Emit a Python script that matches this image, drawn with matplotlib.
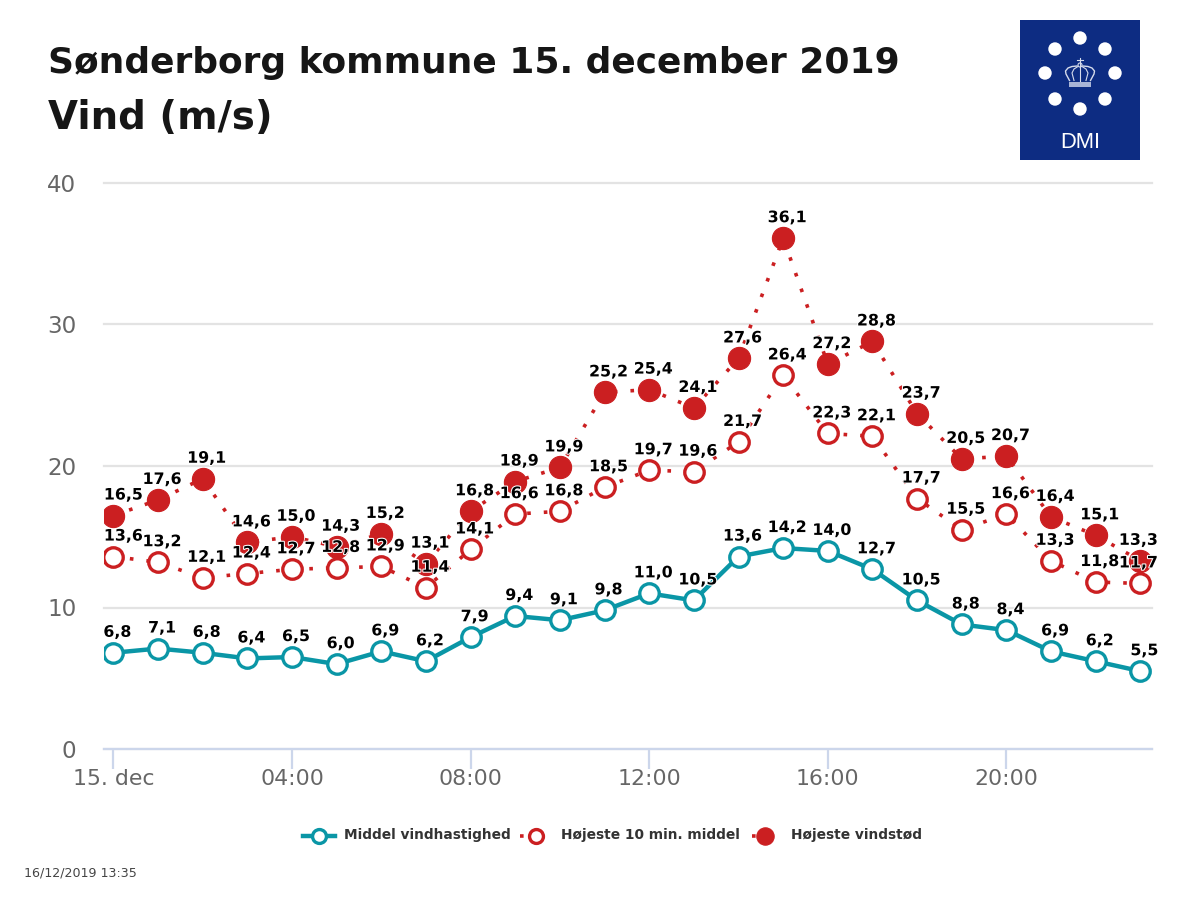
import matplotlib
matplotlib.use("Agg")
import matplotlib.pyplot as plt
import matplotlib.patheffects as pe
from matplotlib.patches import Circle, Rectangle

# data
hours = list(range(24))
middel = [6.8, 7.1, 6.8, 6.4, 6.5, 6.0, 6.9, 6.2, 7.9, 9.4, 9.1, 9.8, 11.0, 10.5, 13.6, 14.2, 14.0, 12.7, 10.5, 8.8, 8.4, 6.9, 6.2, 5.5]
hoejeste_10min = [13.6, 13.2, 12.1, 12.4, 12.7, 12.8, 12.9, 11.4, 14.1, 16.6, 16.8, 18.5, 19.7, 19.6, 21.7, 26.4, 22.3, 22.1, 17.7, 15.5, 16.6, 13.3, 11.8, 11.7]
vindstoed = [16.5, 17.6, 19.1, 14.6, 15.0, 14.3, 15.2, 13.1, 16.8, 18.9, 19.9, 25.2, 25.4, 24.1, 27.6, 36.1, 27.2, 28.8, 23.7, 20.5, 20.7, 16.4, 15.1, 13.3]
x_ticks = [0, 4, 8, 12, 16, 20]
x_labels = ["15. dec", "04:00", "08:00", "12:00", "16:00", "20:00"]
y_ticks = [0, 10, 20, 30, 40]

TEAL = "#0a96a6"
RED = "#cb1f21"
DOTS = (0, (1, 3.6))
W, H = 1200, 900

plt.rcParams["font.family"] = "DejaVu Sans"


def px(size):
    return size * 72 / 100


fig = plt.figure(figsize=(12, 9), dpi=100, facecolor="white")
ax = fig.add_axes([104 / W, 1 - 749 / H, 1048 / W, 566 / H])

ax.plot(hours, vindstoed, color=RED, lw=2.6, ls=DOTS, marker="o", ms=16, mfc=RED, mec=RED, mew=0.8, zorder=3, label="Højeste vindstød")
ax.plot(hours, hoejeste_10min, color=RED, lw=2.6, ls=DOTS, marker="o", ms=14, mfc="white", mec=RED, mew=2.4, zorder=4, label="Højeste 10 min. middel")
ax.plot(hours, middel, color=TEAL, lw=3.2, marker="o", ms=14, mfc="white", mec=TEAL, mew=2.4, zorder=5, label="Middel vindhastighed")


def labels(values, dy):
    for h, v in zip(hours, values):
        text = f"{v:.1f}".replace(".", ",")
        # highcharts pushes the wide labels in from the plot edges
        dx = 4
        if h == 0 and len(text) == 4:
            dx = 10
        elif h == 23 and len(text) == 4:
            dx = -2
        ax.annotate(text, (h, v), xytext=(px(dx), px(dy)), textcoords="offset points",
                    ha="center", va="center", fontsize=px(15.8), fontweight="bold", color="black", zorder=8,
                    annotation_clip=False, path_effects=[pe.withStroke(linewidth=1.5, foreground="white")])


labels(vindstoed, 20.5)
labels(hoejeste_10min, 20.5)
labels(middel, 20.5)

ax.set_xlim(-0.21, 23.26)
ax.set_ylim(0, 40)
ax.set_xticks(x_ticks)
ax.set_xticklabels(x_labels)
ax.set_yticks(y_ticks)
ax.grid(axis="y", color="#e3e3e3", lw=1.6)
for line in ax.get_ygridlines():
    line.set_clip_on(False)
ax.set_axisbelow(True)
for s in ["top", "left", "right"]:
    ax.spines[s].set_visible(False)
ax.spines["bottom"].set_color("#ccd6eb")
ax.spines["bottom"].set_linewidth(1.6)
ax.tick_params(axis="x", length=px(20), width=1.6, color="#ccd6eb", labelsize=px(22), labelcolor="#666666", pad=0)
ax.tick_params(axis="y", length=0, labelsize=px(23), labelcolor="#666666", pad=px(27.5))

fig.text(48 / W, 1 - 63 / H, "Sønderborg kommune 15. december 2019", fontsize=px(36), fontweight="bold", color="#161616", va="center")
fig.text(48 / W, 1 - 118 / H, "Vind (m/s)", fontsize=px(38.8), fontweight="bold", color="#161616", va="center")
fig.text(24 / W, 1 - 873 / H, "16/12/2019 13:35", fontsize=px(12.6), color="#444444", va="center")

# overlay in pixel coordinates for legend and logo
over = fig.add_axes([0, 0, 1, 1], facecolor="none")
over.set_xlim(0, W)
over.set_ylim(H, 0)
over.axis("off")

# legend
over.plot([303, 335], [836, 836], color=TEAL, lw=3.2)
over.plot([319], [836], marker="o", ms=10, mfc="white", mec=TEAL, mew=2.4)
over.text(344, 835, "Middel vindhastighed", fontsize=px(13.8), fontweight="bold", color="#333333", va="center")
over.plot([520, 540], [836, 836], color=RED, lw=2.6, ls=DOTS)
over.plot([536], [836], marker="o", ms=10, mfc="white", mec=RED, mew=2.4)
over.text(561, 835, "Højeste 10 min. middel", fontsize=px(13.8), fontweight="bold", color="#333333", va="center")
over.plot([752, 772], [836, 836], color=RED, lw=2.6, ls=DOTS)
over.plot([765], [836], marker="o", ms=12.5, mfc=RED, mec=RED, mew=0.8)
over.text(791, 835, "Højeste vindstød", fontsize=px(13.8), fontweight="bold", color="#333333", va="center")

# DMI logo
over.add_patch(Rectangle((1020, 20), 120, 140, fc="#0d2c82", ec="none"))
for cx, cy in [(1080, 38), (1105, 49), (1115, 73), (1105, 99), (1080, 109), (1055, 99), (1045, 73), (1055, 49)]:
    over.add_patch(Circle((cx, cy), 6.7, fc="white", ec="none"))
over.add_patch(Rectangle((1069, 81.5), 22, 5.2, fc="#a9b5d6", ec="none"))
crown = "#d5dbeb"
over.plot([1069.5, 1066, 1065.5, 1068, 1072, 1077], [80.5, 74, 71, 68, 66.5, 66], color=crown, lw=1)
over.plot([1090.5, 1094, 1094.5, 1092, 1088, 1083], [80.5, 74, 71, 68, 66.5, 66], color=crown, lw=1)
over.plot([1074, 1072, 1074, 1078], [80.5, 73, 69, 66.5], color=crown, lw=0.8)
over.plot([1086, 1088, 1086, 1082], [80.5, 73, 69, 66.5], color=crown, lw=0.8)
over.plot([1080, 1080], [58, 80.5], color=crown, lw=0.8)
over.plot([1077, 1083], [60, 60], color=crown, lw=0.8)
over.add_patch(Circle((1080, 65), 2, fc="#0d2c82", ec=crown, lw=0.8))
over.text(1080, 142, "DMI", fontsize=px(22), color="white", ha="center", va="center", family="Liberation Sans")

fig.savefig("out.png", dpi=100)
